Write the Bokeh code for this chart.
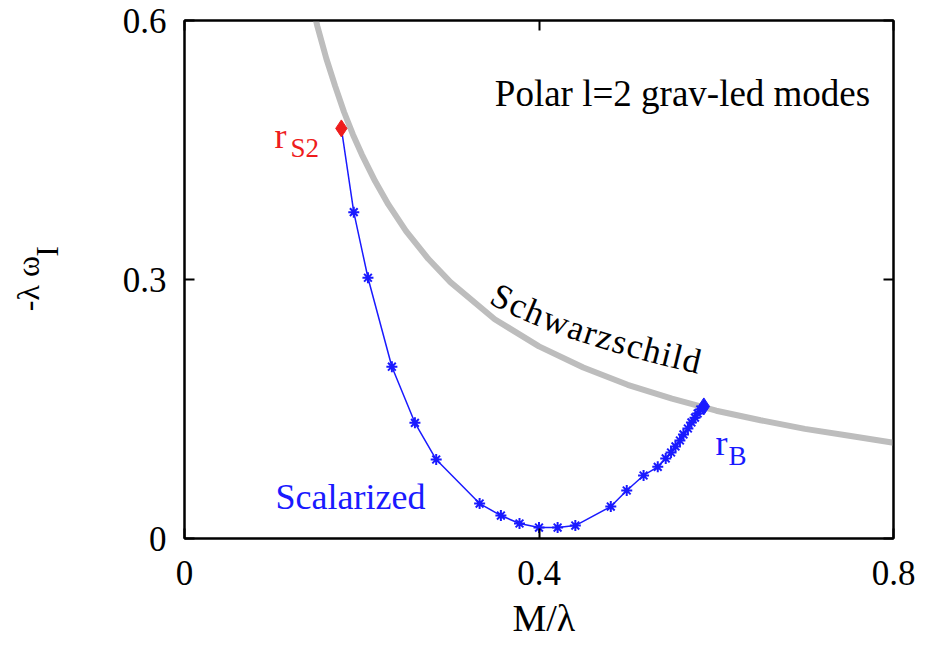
import math
from bokeh.plotting import figure
from bokeh.models import Range1d, LinearAxis, FixedTicker, Label, ColumnDataSource, Title
from bokeh.core.properties import value
from bokeh.embed import file_html
from bokeh.resources import INLINE

# Schwarzschild branch: -lambda*omega_I versus M/lambda
schw_x = [0.140, 0.150, 0.160, 0.170, 0.180, 0.190, 0.200, 0.215, 0.230, 0.250,
          0.275, 0.300, 0.350, 0.400, 0.450, 0.500, 0.550, 0.600, 0.650, 0.700,
          0.750, 0.800]
schw_y = [0.636, 0.593, 0.556, 0.524, 0.494, 0.468, 0.445, 0.414, 0.387, 0.356,
          0.324, 0.297, 0.254, 0.2225, 0.198, 0.178, 0.162, 0.148, 0.137, 0.127,
          0.119, 0.111]

# Scalarized branch, from r_S2 to r_B
scal_x = [0.177, 0.191, 0.207, 0.234, 0.260, 0.284, 0.333, 0.357, 0.378, 0.400,
          0.421, 0.441, 0.481, 0.499, 0.518, 0.534, 0.543, 0.549, 0.554, 0.559,
          0.563, 0.568, 0.572, 0.576, 0.579, 0.582, 0.586]
scal_y = [0.475, 0.378, 0.302, 0.199, 0.134, 0.0915, 0.0405, 0.0266, 0.0174, 0.0127,
          0.0127, 0.015, 0.037, 0.0556, 0.073, 0.083, 0.0927, 0.0996, 0.1066, 0.1135,
          0.1205, 0.1274, 0.1344, 0.140, 0.1448, 0.1494, 0.153]

x_ticks = [0, 0.4, 0.8]
y_ticks = [0, 0.3, 0.6]

FONT = "Liberation Serif"
BLUE = "#1a1aff"
RED = "#ee1c1c"
GREY = "#bdbdbd"
NBSP = "\u00a0"

W, H = 925, 648
L, R, T, B = 184, 32, 20, 110

p = figure(width=W, height=H, output_backend="svg", toolbar_location=None,
           x_range=Range1d(0, 0.8), y_range=Range1d(0, 0.6),
           min_border_left=L, min_border_right=R, min_border_top=T, min_border_bottom=B)
p.grid.visible = False
p.outline_line_color = "black"
p.outline_line_width = 2
p.background_fill_color = "white"
p.border_fill_color = "white"

def style_axis(ax, ticks, standoff):
    ax.ticker = FixedTicker(ticks=ticks)
    ax.minor_tick_line_color = None
    ax.major_tick_in = 10
    ax.major_tick_out = 0
    ax.major_tick_line_width = 2
    ax.axis_line_width = 2
    ax.major_label_text_font = FONT
    ax.major_label_text_font_size = "35px"
    ax.major_label_text_color = "black"
    ax.major_label_standoff = standoff

style_axis(p.xaxis[0], x_ticks, 22)
style_axis(p.yaxis[0], y_ticks, 18)
p.xaxis[0].major_label_overrides = {0: "0", 0.4: "0.4", 0.8: "0.8"}
p.yaxis[0].major_label_overrides = {0: "0", 0.3: "0.3", 0.6: "0.6"}

# y axis title: the subscript "I" is set as a second, tightly spaced line
yax = p.yaxis[0]
yax.axis_label = "-λ ω" + NBSP + "\n" + NBSP * 7 + "I"
yax.axis_label_text_font = FONT
yax.axis_label_text_font_size = "32px"
yax.axis_label_text_font_style = "normal"
yax.axis_label_text_color = "black"
yax.axis_label_text_line_height = 0.53
yax.axis_label_standoff = 55

# mirrored ticks on the top and right edges, without labels
top_ax = LinearAxis()
right_ax = LinearAxis()
style_axis(top_ax, x_ticks, 0)
style_axis(right_ax, y_ticks, 0)
top_ax.major_label_overrides = {t: "" for t in x_ticks}
right_ax.major_label_overrides = {t: "" for t in y_ticks}
p.add_layout(top_ax, "above")
p.add_layout(right_ax, "right")

# x axis title
p.add_layout(Title(text="M/λ", text_font=FONT, text_font_size="38px",
                   text_font_style="normal", text_color="black",
                   align="left", offset=328, standoff=14), "below")

# curves
p.line(schw_x, schw_y, line_color=GREY, line_width=6)
p.line(scal_x, scal_y, line_color=BLUE, line_width=1.5)
p.scatter(scal_x[1:-1], scal_y[1:-1], marker="asterisk", size=11,
          line_color=BLUE, line_width=2)
p.scatter([scal_x[-1]], [scal_y[-1]], marker="diamond", size=17,
          fill_color=BLUE, line_color=BLUE)
p.scatter([scal_x[0]], [scal_y[0]], marker="diamond", size=17,
          fill_color=RED, line_color=RED)

# pixel -> data helpers for annotation placement
fw = W - L - R
fh = H - T - B
def dx(px):
    return (px - L) / fw * 0.8
def dy(py):
    return (H - B - py) / fh * 0.6

def label(x, y, text, size, color, align="left", angle=0.0):
    p.add_layout(Label(x=x, y=y, text=text, text_font=FONT, text_font_size=size,
                       text_color=color, text_align=align,
                       text_baseline="alphabetic", angle=angle))

# text annotations
label(dx(682), dy(93), "Polar l=2 grav-led modes", "37px", "black", align="center")
label(dx(275), dy(496), "Scalarized", "36px", BLUE)
label(dx(274), dy(135), "r", "36px", RED)
label(dx(290), dy(147), "S2", "27px", RED)
label(dx(715), dy(442), "r", "36px", BLUE)
label(dx(728), dy(455), "B", "27px", BLUE)

# "Schwarzschild" set letter by letter along a gentle arc above the grey curve
word = "Schwarzschild"
adv = {"S": .556, "c": .444, "h": .5, "w": .722, "a": .444, "r": .333, "z": .444,
       "s": .389, "i": .278, "l": .278, "d": .5}
fs = 35
P0, P1, P2 = (493.0, 292.0), (560.0, 330.0), (700.0, 362.0)
def bez(t):
    u = 1 - t
    return (u*u*P0[0] + 2*u*t*P1[0] + t*t*P2[0], u*u*P0[1] + 2*u*t*P1[1] + t*t*P2[1])
def bez_d(t):
    return (2*(1-t)*(P1[0]-P0[0]) + 2*t*(P2[0]-P1[0]), 2*(1-t)*(P1[1]-P0[1]) + 2*t*(P2[1]-P1[1]))
N = 400
ts = [i / N for i in range(N + 1)]
cum = [0.0]
for i in range(1, N + 1):
    a, b = bez(ts[i-1]), bez(ts[i])
    cum.append(cum[-1] + math.hypot(b[0]-a[0], b[1]-a[1]))
total = cum[-1]
widths = [adv[c] * fs for c in word]
gap = (total - sum(widths)) / (len(word) - 1)
def t_at(s):
    for i in range(1, N + 1):
        if cum[i] >= s:
            f = (s - cum[i-1]) / max(cum[i] - cum[i-1], 1e-9)
            return ts[i-1] + f * (ts[i] - ts[i-1])
    return 1.0
lx, ly, la = [], [], []
s = 0.0
for c, w in zip(word, widths):
    t = t_at(s + w / 2)
    px, py = bez(t)
    ddx, ddy = bez_d(t)
    lx.append(dx(px)); ly.append(dy(py)); la.append(-math.atan2(ddy, ddx))
    s += w + gap
src = ColumnDataSource(dict(x=lx, y=ly, text=list(word), angle=la))
p.text(x="x", y="y", text="text", angle="angle", source=src,
       text_font=value(FONT), text_font_size="35px", text_color="black",
       text_align="center", text_baseline="alphabetic")

open("out.html", "w").write(file_html(p, INLINE))
